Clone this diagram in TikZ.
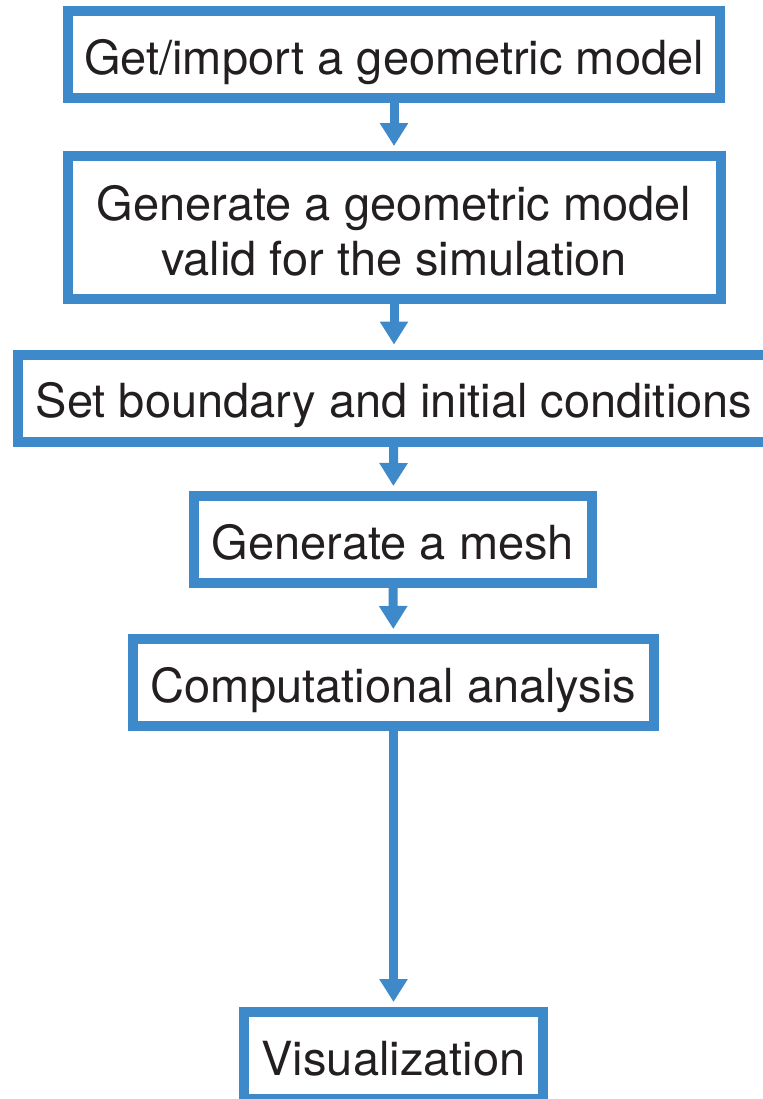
\documentclass[tikz,border=0pt]{standalone}
\usepackage{fontspec}
\setmainfont{TeX Gyre Heros}
\usetikzlibrary{arrows.meta}
\definecolor{flowblue}{RGB}{62,137,201}
\definecolor{inkgray}{RGB}{35,31,32}

\begin{document}
\begin{tikzpicture}[x=0.5pt, y=-0.5pt, ->, >={Triangle[length=11.5pt, width=13.5pt]},
  stepbox/.style={draw=flowblue, line width=5pt, rectangle, inner sep=0pt,
    text=inkgray, font=\fontsize{23.5}{27.5}\selectfont, align=center,
    text height=19.5pt, text depth=0pt, minimum height=43.5pt},
  link/.style={draw=flowblue, line width=4.5pt, shorten >=2.5pt}]
  \useasboundingbox (0,0) rectangle (763,1099);

  % the steps, top to bottom
  \node[stepbox, minimum width=326pt] (import) at (394,54.5) {Get/import a geometric model};
  \node[stepbox, minimum width=326.5pt, minimum height=71.5pt, text height=47.5pt] (valid) at (394,227.5)
    {Generate a geometric model\\valid for the simulation};
  \node[stepbox, minimum width=376pt] (bc) at (394,398) {Set boundary and initial conditions};
  \node[stepbox, minimum width=199pt] (mesh) at (393,539.5) {Generate a mesh};
  \node[stepbox, minimum width=260.5pt] (analysis) at (393.5,682.5) {Computational analysis};
  \node[stepbox, minimum width=149.5pt] (vis) at (393.5,1055.5) {Visualization};

  \path (import)   edge[link] (valid)
        (valid)    edge[link] (bc)
        (bc)       edge[link] (mesh)
        (mesh)     edge[link] (analysis)
        (analysis) edge[link] (vis);
\end{tikzpicture}
\end{document}
